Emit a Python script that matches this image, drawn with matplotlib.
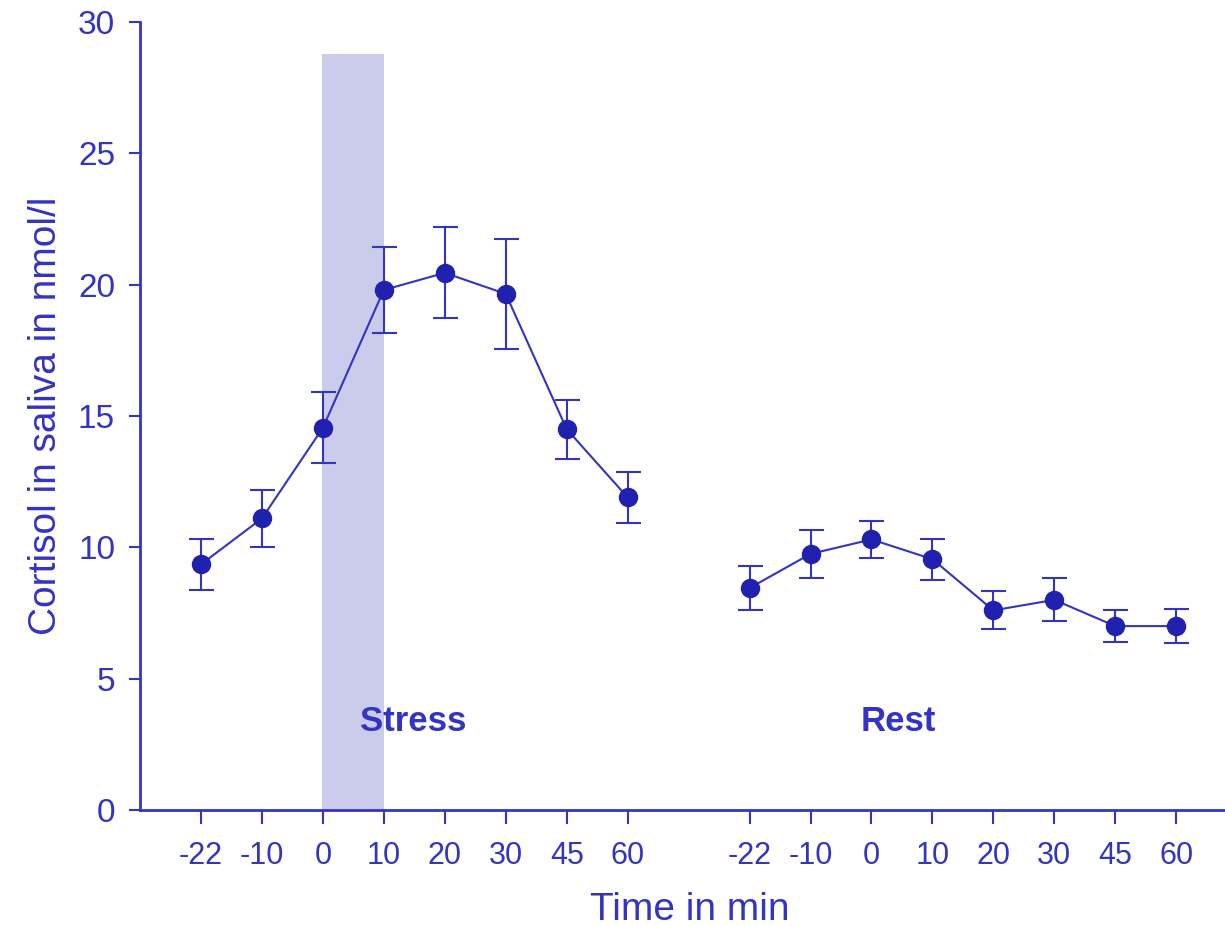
import matplotlib.pyplot as plt
import numpy as np

# data
time_labels = ['-22', '-10', '0', '10', '20', '30', '45', '60']
stress_mean = [9.35, 11.1, 14.55, 19.8, 20.45, 19.65, 14.5, 11.9]
stress_err = [0.97, 1.07, 1.35, 1.65, 1.73, 2.1, 1.12, 0.97]
rest_mean = [8.45, 9.75, 10.3, 9.55, 7.6, 8.0, 7.0, 7.0]
rest_err = [0.83, 0.9, 0.7, 0.78, 0.72, 0.82, 0.6, 0.66]

blue = '#3333c4'
dark = '#2121b0'
shade = '#cbcbec'

plt.rcParams['font.family'] = ['Liberation Sans', 'DejaVu Sans']

fig = plt.figure(figsize=(12.25, 9.26), dpi=100)
ax = fig.add_axes([0.1143, 0.1253, 0.8857, 0.8509])

x_stress = np.arange(8)
x_rest = np.arange(9, 17)

# stress period
ax.axvspan(1.98, 3.0, ymin=0, ymax=28.8 / 30, color=shade, lw=0, zorder=0)

for xs, m, e in [(x_stress, stress_mean, stress_err), (x_rest, rest_mean, rest_err)]:
    ax.errorbar(xs, m, yerr=e, fmt='-', color=blue, lw=1.5, elinewidth=1.5,
                capsize=9, capthick=1.5, zorder=2)
    ax.plot(xs, m, 'o', color=dark, ms=13, zorder=3)

ax.text(3.48, 3.35, 'Stress', ha='center', va='center', fontsize=25,
        fontweight='bold', color=blue)
ax.text(11.44, 3.35, 'Rest', ha='center', va='center', fontsize=25,
        fontweight='bold', color=blue)

ax.set_xlim(-1, 16.8)
ax.set_ylim(0, 30)
ax.set_yticks([0, 5, 10, 15, 20, 25, 30])
ax.set_xticks(list(x_stress) + list(x_rest))
ax.set_xticklabels(time_labels + time_labels)

for s in ['top', 'right']:
    ax.spines[s].set_visible(False)
for s in ['left', 'bottom']:
    ax.spines[s].set_color(blue)
    ax.spines[s].set_linewidth(2)

ax.tick_params(axis='both', colors=blue, width=1.5)
ax.tick_params(axis='y', length=8, pad=10, labelsize=24)
ax.tick_params(axis='x', length=10, pad=12, labelsize=22)

ax.set_xlabel('Time in min', fontsize=28, color=blue)
ax.xaxis.set_label_coords(0.507, -0.104)
ax.set_ylabel('Cortisol in saliva in nmol/l', fontsize=28, color=blue, labelpad=10)

plt.savefig('out.png', dpi=100)
